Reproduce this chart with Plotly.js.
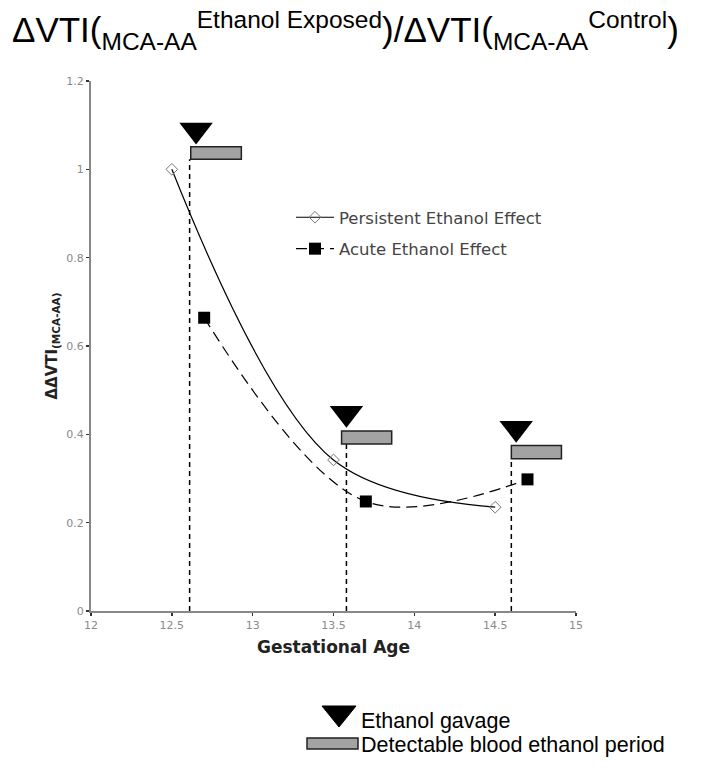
<!DOCTYPE html>
<html>
<head>
<meta charset="utf-8">
<script src="https://cdn.plot.ly/plotly-3.0.1.min.js"></script>
<style>html,body{margin:0;padding:0;background:#fff;}#chart{width:710px;height:768px;}</style>
</head>
<body>
<div id="chart"></div>
<script>
// ---- data ----
const persistentX = [12.5, 13.5, 14.5];
const persistentY = [1.0, 0.342, 0.235];
const acuteX = [12.7, 13.7, 14.7];
const acuteY = [0.664, 0.248, 0.298];
const gavageX = [12.65, 13.58, 14.63];      // ethanol gavage triangles
const gavageY = [1.089, 0.448, 0.414];
const dashX = [12.61, 13.58, 14.60];        // vertical guide lines
const periodStart = [12.617, 13.55, 14.60]; // detectable blood ethanol period
const periodEnd = [12.93, 13.86, 14.91];
const periodLow = [1.023, 0.378, 0.345];
const periodHigh = [1.051, 0.4075, 0.375];
const xTicks = [12, 12.5, 13, 13.5, 14, 14.5, 15];
const yTicks = [0, 0.2, 0.4, 0.6, 0.8, 1, 1.2];

const L = 91, R = 576, T = 81, B = 611;
const px = v => (v - L) / (R - L);
const py = v => (B - v) / (B - T);

const traces = [
  {
    x: persistentX, y: persistentY, type: 'scatter', mode: 'lines+markers',
    name: 'Persistent Ethanol Effect', legendgroup: 'a',
    line: {color: '#000', width: 1.2, shape: 'spline', smoothing: 1},
    marker: {symbol: 'diamond-open', size: 9, color: '#777', line: {width: 1, color: '#777'}}
  },
  {
    x: acuteX, y: acuteY, type: 'scatter', mode: 'lines+markers',
    name: 'Acute Ethanol Effect', legendgroup: 'b',
    line: {color: '#000', width: 1.2, dash: '11px,6px', shape: 'spline', smoothing: 1},
    marker: {symbol: 'square', size: 12, color: '#000'}
  },
  {
    x: gavageX, y: gavageY, type: 'scatter', mode: 'markers', showlegend: false,
    marker: {symbol: 'triangle-down', size: 29, color: '#000'}, hoverinfo: 'skip'
  }
];

const shapes = [];
dashX.forEach((x, i) => {
  shapes.push({type: 'line', xref: 'x', yref: 'y', x0: x, x1: x, y0: 0, y1: periodLow[i],
    line: {color: '#000', width: 1.5, dash: '5px,4px'}, layer: 'below'});
});
periodStart.forEach((x, i) => {
  shapes.push({type: 'rect', xref: 'x', yref: 'y', x0: x, x1: periodEnd[i], y0: periodLow[i], y1: periodHigh[i],
    fillcolor: '#a3a3a3', line: {color: '#222', width: 1.5}});
});
// bottom key
shapes.push({type: 'path', xref: 'paper', yref: 'paper',
  path: `M${px(322)},${py(706)} L${px(356)},${py(706)} L${px(339)},${py(727)} Z`,
  fillcolor: '#000', line: {color: '#000', width: 1}});
shapes.push({type: 'rect', xref: 'paper', yref: 'paper', x0: px(307), x1: px(358), y0: py(749), y1: py(738),
  fillcolor: '#a3a3a3', line: {color: '#222', width: 1.5}});

const annotations = [
  {xref: 'paper', yref: 'paper', x: px(359), y: py(721), xanchor: 'left', yanchor: 'middle', showarrow: false,
   text: 'Ethanol gavage', font: {family: 'Liberation Sans, Arial', size: 21.5, color: '#000'}},
  {xref: 'paper', yref: 'paper', x: px(359), y: py(745), xanchor: 'left', yanchor: 'middle', showarrow: false,
   text: 'Detectable blood ethanol period', font: {family: 'Liberation Sans, Arial', size: 21.5, color: '#000'}}
];

const layout = {
  width: 710, height: 768,
  margin: {l: L, r: 710 - R, t: T, b: 768 - B},
  paper_bgcolor: '#fff', plot_bgcolor: '#fff',
  font: {family: 'DejaVu Sans, Verdana', color: '#333'},
  title: {
    text: 'ΔVTI(<sub>MCA-AA</sub><sup>Ethanol Exposed</sup>)/ΔVTI(<sub>MCA-AA</sub><sup>Control</sup>)',
    font: {family: 'Liberation Sans, Arial', size: 35, color: '#000'},
    x: 12 / 710, xref: 'container', xanchor: 'left',
    y: 1 - 30 / 768, yref: 'container', yanchor: 'middle'
  },
  xaxis: {
    range: [12, 15], tickvals: xTicks, ticktext: xTicks.map(String),
    showgrid: false, zeroline: false, showline: true, linecolor: '#888', linewidth: 2,
    ticks: 'outside', ticklen: 3, tickwidth: 1.5, tickcolor: '#333',
    tickfont: {size: 11, color: '#8a8a8a'},
    title: {text: '<b>Gestational Age</b>', font: {size: 17, color: '#222'}, standoff: 10}
  },
  yaxis: {
    range: [0, 1.2], tickvals: yTicks, ticktext: yTicks.map(String),
    showgrid: false, zeroline: false, showline: true, linecolor: '#888', linewidth: 2,
    ticks: 'outside', ticklen: 3, tickwidth: 1.5, tickcolor: '#333',
    tickfont: {size: 11, color: '#8a8a8a'},
    title: {text: '<b>ΔΔVTI</b><sub><b>(MCA-AA)</b></sub>', font: {size: 15, color: '#222'}, standoff: 5}
  },
  legend: {
    x: px(291), y: py(200), xanchor: 'left', yanchor: 'top',
    bgcolor: 'rgba(0,0,0,0)', borderwidth: 0, itemwidth: 38,
    font: {size: 16.5, color: '#444'}, traceorder: 'grouped', tracegroupgap: 7
  },
  shapes: shapes,
  annotations: annotations,
  showlegend: true
};

Plotly.newPlot('chart', traces, layout, {displayModeBar: false, staticPlot: true});
</script>
</body>
</html>
